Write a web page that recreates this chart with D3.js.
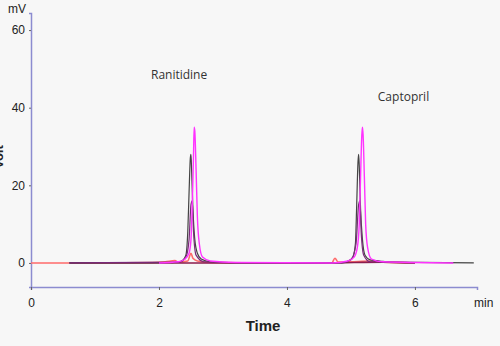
<!DOCTYPE html>
<html>
<head>
<meta charset="utf-8">
<script src="https://cdn.jsdelivr.net/npm/d3@7"></script>
<style>
  body { margin: 0; background: #f7f7f7; }
  svg { display: block; }
</style>
</head>
<body>
<div id="chart"></div>
<script>
// chromatogram traces, [time (min), signal (mV)]
const grayTrace = [[0.6,0],[2.2,0.1],[2.35,0.4],[2.42,2],[2.45,8],[2.47,18],[2.49,27],[2.5,28],[2.51,24],[2.53,14],[2.56,6],[2.6,2.5],[2.66,1],[2.8,0.3],[3.2,0.1],[4.8,0],[4.95,0.4],[5.03,1.5],[5.07,5],[5.09,15],[5.11,26],[5.12,28],[5.13,25],[5.15,14],[5.18,6],[5.22,2],[5.3,0.8],[5.45,0.5],[5.6,0.2],[6.92,0]];
const magentaTrace = [[2.0,0],[2.3,0.3],[2.4,0.9],[2.47,2.5],[2.5,6],[2.52,15],[2.54,28],[2.55,35],[2.56,34],[2.58,24],[2.6,12],[2.63,5],[2.68,1.5],[2.8,0.5],[3.2,0.1],[4.7,0],[4.95,0.5],[5.05,1.5],[5.1,4],[5.13,10],[5.15,22],[5.17,33],[5.18,35],[5.19,33],[5.21,22],[5.23,10],[5.26,4],[5.32,1],[5.5,0.3],[6.6,0]];
const purpleTrace = [[0.6,0],[2.3,0.2],[2.42,1.5],[2.47,6],[2.5,15],[2.52,16],[2.54,8],[2.58,2],[2.7,0.3],[3.2,0],[4.85,0],[5.0,0.8],[5.08,5],[5.12,15],[5.14,16],[5.16,8],[5.2,2],[5.3,0.3],[6.0,0]];
const redTrace = [[0,0],[1.0,0],[1.9,0.1],[2.1,0.3],[2.25,0.6],[2.3,0.2],[2.45,0.5],[2.5,2.5],[2.53,1.2],[2.6,0.5],[2.8,0.1],[3.5,0],[4.7,0],[4.75,1.2],[4.8,0.2],[5.0,0.3],[5.3,0.5],[5.5,0.2],[6.0,0]];
const maroonTrace = [[0.6,0],[2.2,0],[4.6,0],[5.5,0.2],[6.0,0]];

const yTicks = [0, 20, 40, 60];
const xTicks = [0, 2, 4, 6];
const peakLabels = [
  { name: 'Ranitidine', t: 1.875, v: 47.4 },
  { name: 'Captopril', t: 5.42, v: 41.8 }
];

const W = 500, H = 346;
const svg = d3.select('#chart').append('svg')
  .attr('width', W)
  .attr('height', H);

svg.append('rect')
  .attr('width', W)
  .attr('height', H)
  .attr('fill', '#f7f7f7');

const x = d3.scaleLinear().domain([0, 6.97]).range([31, 477]);
const y = d3.scaleLinear().domain([-6.2, 64.4]).range([287, 13]);

const axisColor = '#8c8cd0';
const font = 'Liberation Sans, Arial, sans-serif';

// axes
const yAxis = svg.append('g')
  .attr('transform', `translate(${x(0)},0)`)
  .call(d3.axisLeft(y).tickValues(yTicks).tickSize(2).tickPadding(4));
yAxis.select('.domain').attr('stroke', axisColor).attr('stroke-width', 1.5);
yAxis.selectAll('.tick line').attr('stroke', '#666');
yAxis.selectAll('.tick text')
  .style('font-family', font)
  .style('font-size', '12px')
  .attr('fill', '#222');

const xAxis = svg.append('g')
  .attr('transform', `translate(0,${y(-6.2)})`)
  .call(d3.axisBottom(x).tickValues(xTicks).tickFormat(d3.format('d')).tickSize(3).tickPadding(8));
xAxis.select('.domain').attr('stroke', axisColor).attr('stroke-width', 1.5);
xAxis.selectAll('.tick line').attr('stroke', '#666');
xAxis.selectAll('.tick text')
  .style('font-family', font)
  .style('font-size', '12px')
  .attr('fill', '#222');

svg.append('text')
  .attr('x', 8)
  .attr('y', 13)
  .style('font-family', font)
  .style('font-size', '12px')
  .attr('fill', '#222')
  .text('mV');

svg.append('text')
  .attr('x', 474)
  .attr('y', 307)
  .style('font-family', font)
  .style('font-size', '12px')
  .attr('fill', '#222')
  .text('min');

svg.append('text')
  .attr('x', 263)
  .attr('y', 331)
  .attr('text-anchor', 'middle')
  .style('font-family', font)
  .style('font-size', '15px')
  .style('font-weight', 'bold')
  .attr('fill', '#222')
  .text('Time');

// y title sits mostly outside the left edge, as in the source image
svg.append('text')
  .attr('transform', 'translate(3,157) rotate(-90)')
  .attr('text-anchor', 'middle')
  .style('font-family', font)
  .style('font-size', '13px')
  .style('font-weight', 'bold')
  .attr('fill', '#222')
  .text('Volt');

// traces
const line = d3.line()
  .x(d => x(d[0]))
  .y(d => y(d[1]))
  .curve(d3.curveMonotoneX);

const traces = [
  { data: redTrace, color: '#ff6b6b', width: 1.6 },
  { data: maroonTrace, color: '#8b1d4d', width: 1.6 },
  { data: grayTrace, color: '#444', width: 1.2 },
  { data: purpleTrace, color: '#7a2a7a', width: 1.2 },
  { data: magentaTrace, color: '#ff33ff', width: 1.4 }
];

svg.selectAll('path.trace')
  .data(traces)
  .enter()
  .append('path')
  .attr('class', 'trace')
  .attr('d', d => line(d.data))
  .attr('fill', 'none')
  .attr('stroke', d => d.color)
  .attr('stroke-width', d => d.width)
  .attr('stroke-linejoin', 'round');

svg.selectAll('text.peak')
  .data(peakLabels)
  .enter()
  .append('text')
  .attr('class', 'peak')
  .attr('x', d => x(d.t))
  .attr('y', d => y(d.v))
  .style('font-family', 'Open Sans, sans-serif')
  .style('font-size', '12px')
  .attr('fill', '#333')
  .text(d => d.name);
</script>
</body>
</html>
